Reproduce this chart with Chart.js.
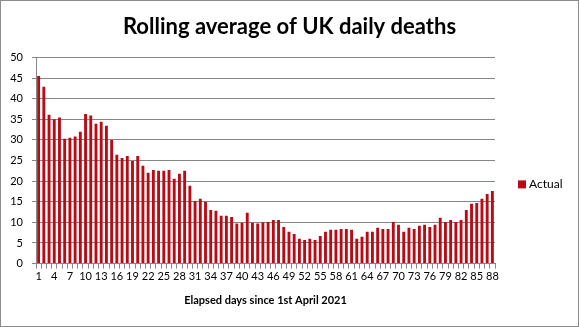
<!DOCTYPE html>
<html>
<head>
<meta charset="utf-8">
<script src="https://cdn.jsdelivr.net/npm/chart.js@4/dist/chart.umd.min.js"></script>
<style>
  body { margin: 0; background: #fff; }
  #wrap { width: 579px; height: 327px; box-sizing: border-box; border: 1px solid #8c8c8c; }
  canvas { display: block; }
</style>
</head>
<body>
<div id="wrap"><canvas id="deathsChart" width="577" height="325"></canvas></div>
<script>
// Day numbers since 1st April 2021
const days = [];
for (let d = 1; d <= 88; d++) days.push(String(d));

// 7-day rolling average of daily deaths
const actual = [
  45.5, 42.9, 36.1, 35.0, 35.4, 30.3, 30.5, 30.8, 32.0, 36.3,
  35.9, 33.9, 34.4, 33.4, 30.0, 26.4, 25.6, 26.1, 24.9, 26.1,
  23.7, 22.0, 22.7, 22.5, 22.5, 22.7, 20.6, 21.8, 22.5, 18.9,
  15.2, 15.7, 15.0, 13.0, 12.8, 11.6, 11.6, 11.3, 9.7, 9.9,
  12.3, 9.9, 9.7, 10.0, 10.1, 10.6, 10.6, 8.9, 7.7, 7.2,
  6.0, 5.7, 6.0, 5.7, 6.7, 7.7, 8.2, 8.2, 8.4, 8.4,
  8.2, 6.0, 6.5, 7.7, 7.7, 8.7, 8.4, 8.4, 10.1, 9.4,
  7.7, 8.7, 8.4, 9.2, 9.4, 8.9, 9.4, 11.1, 10.1, 10.6,
  10.1, 10.6, 13.0, 14.5, 14.7, 15.7, 16.9, 17.6
];

const yTicks = [0, 5, 10, 15, 20, 25, 30, 35, 40, 45, 50];

const gridGrey = '#868686';
const barRed = '#BC0A14';
const fontName = 'Lato, "Open Sans", sans-serif';

// legend drawn in the right-hand gutter, a bit below the middle like the original
const sideLegend = {
  id: 'sideLegend',
  afterDraw(chart) {
    const ctx = chart.ctx;
    const area = chart.chartArea;
    const ds = chart.data.datasets[0];
    const x = area.right + 23;
    const y = area.top + 127;
    ctx.save();
    ctx.fillStyle = ds.backgroundColor;
    ctx.fillRect(x, y - 4, 8, 8);
    ctx.fillStyle = '#000';
    ctx.font = '12px ' + fontName;
    ctx.textBaseline = 'middle';
    ctx.fillText(ds.label, x + 11, y);
    ctx.restore();
  }
};

const ctx = document.getElementById('deathsChart').getContext('2d');
const chart = new Chart(ctx, {
  type: 'bar',
  data: {
    labels: days,
    datasets: [{
      label: 'Actual',
      data: actual,
      backgroundColor: barRed,
      barPercentage: 0.55,
      categoryPercentage: 1.0
    }]
  },
  options: {
    responsive: false,
    animation: false,
    layout: { padding: { top: 4, left: 0, right: 0, bottom: 14 } },
    plugins: {
      legend: { display: false },
      tooltip: { enabled: false },
      title: {
        display: true,
        text: 'Rolling average of UK daily deaths',
        color: '#000',
        font: { family: fontName, size: 22, weight: 'bold' },
        padding: { top: 9, bottom: 17 }
      }
    },
    scales: {
      x: {
        offset: true,
        grid: { display: true, drawOnChartArea: false, color: gridGrey, tickLength: 5, offset: true },
        border: { color: gridGrey },
        ticks: {
          autoSkip: false,
          maxRotation: 0,
          padding: 1,
          color: '#000',
          font: { family: fontName, size: 11 },
          callback: (value, index) => (index % 3 === 0 ? days[index] : '')
        },
        title: {
          display: true,
          text: 'Elapsed days since 1st April 2021',
          color: '#000',
          font: { family: fontName, size: 11, weight: 'bold' },
          padding: { top: 10, bottom: 5 }
        }
      },
      y: {
        min: yTicks[0],
        max: yTicks[yTicks.length - 1],
        grid: { color: gridGrey, tickLength: 4 },
        border: { color: gridGrey },
        ticks: {
          stepSize: 5,
          padding: 9,
          color: '#000',
          font: { family: fontName, size: 11 }
        },
        afterBuildTicks: (axis) => { axis.ticks = yTicks.map(v => ({ value: v })); },
        afterFit: (axis) => { axis.width = 35; }
      },
      // empty axis that only reserves the gutter where the legend sits
      gutter: {
        position: 'right',
        grid: { display: false },
        border: { display: false },
        ticks: { display: false },
        afterFit: (axis) => { axis.width = 83; }
      }
    }
  },
  plugins: [sideLegend]
});
</script>
</body>
</html>
